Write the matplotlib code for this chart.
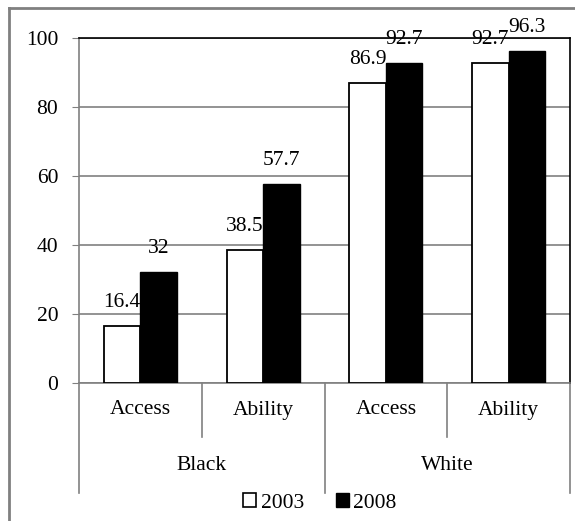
import numpy as np
import matplotlib
matplotlib.use('Agg')
import matplotlib.pyplot as plt
from matplotlib.lines import Line2D
from matplotlib.patches import Patch

groups = ['Black', 'White']
subcats = ['Access', 'Ability', 'Access', 'Ability']
series = ['2003', '2008']
v2003 = [16.4, 38.5, 86.9, 92.7]
v2008 = [32, 57.7, 92.7, 96.3]
labels2003 = ['16.4', '38.5', '86.9', '92.7']
labels2008 = ['32', '57.7', '92.7', '96.3']

plt.rcParams['font.family'] = ['Liberation Serif', 'DejaVu Serif']
gray = '#808080'
fs = 15.5

fig = plt.figure(figsize=(5.75, 5.21), dpi=100)
ax = fig.add_axes([79/575, 1-382.5/521, (570-79)/575, (382.5-38)/521])

x = np.arange(len(subcats))
w = 0.297
b1 = ax.bar(x - w/2, v2003, w, color='white', edgecolor='black', linewidth=1.3, zorder=3)
b2 = ax.bar(x + w/2, v2008, w, color='black', edgecolor='black', linewidth=1.0, zorder=3)
for bars, labs in ((b1, labels2003), (b2, labels2008)):
    for r, t in zip(bars, labs):
        ax.annotate(t, (r.get_x() + r.get_width()/2, r.get_height()), xytext=(0, 10),
                    textcoords='offset points', ha='center', va='bottom', fontsize=fs, clip_on=False)

ax.set_xlim(-0.5, 3.5)
ax.set_ylim(0, 100)
ax.set_yticks(range(0, 101, 20))
ax.tick_params(axis='y', length=5, color=gray, labelsize=fs, pad=10)
ax.set_xticks([])
ax.yaxis.grid(True, color=gray, linewidth=1.2, zorder=0)
ax.set_axisbelow(True)
for s in ['left', 'bottom']:
    ax.spines[s].set_color(gray)
    ax.spines[s].set_linewidth(1.2)
for s in ['top', 'right']:
    ax.spines[s].set_color('black')
    ax.spines[s].set_linewidth(1.2)

# multi-level category axis
tr = ax.get_xaxis_transform()
def fy(py):
    # pixel row -> axes y fraction
    return (382.5 - py) / (382.5 - 38)
for i in range(1, 4):
    bot = 493 if i == 2 else 437
    ax.add_line(Line2D([i - 0.5, i - 0.5], [0, fy(bot)], transform=tr, color=gray, lw=1.2, clip_on=False))
for xe in (-0.5, 3.5):
    ax.add_line(Line2D([xe, xe], [0, fy(493)], transform=tr, color=gray, lw=1.2, clip_on=False))
for i, s in enumerate(subcats):
    ax.text(i, fy(410), s, transform=tr, ha='center', va='center', fontsize=fs)
for g, name in enumerate(groups):
    ax.text(2*g + 0.5, fy(465), name, transform=tr, ha='center', va='center', fontsize=fs)

handles = [Patch(facecolor='white', edgecolor='black', linewidth=1.2),
           Patch(facecolor='black', edgecolor='black')]
fig.legend(handles, series, loc='center', bbox_to_anchor=(320/575, 1-503/521), ncol=2,
           frameon=False, fontsize=fs, handlelength=0.6, handleheight=0.6,
           handletextpad=0.2, columnspacing=1.5)

# outer frame (left and top edges)
fig.add_artist(Line2D([9/575, 9/575], [0, 1-8/521], transform=fig.transFigure, color=gray, lw=2))
fig.add_artist(Line2D([9/575, 1], [1-8/521, 1-8/521], transform=fig.transFigure, color=gray, lw=2))

fig.savefig('out.png', dpi=100)
